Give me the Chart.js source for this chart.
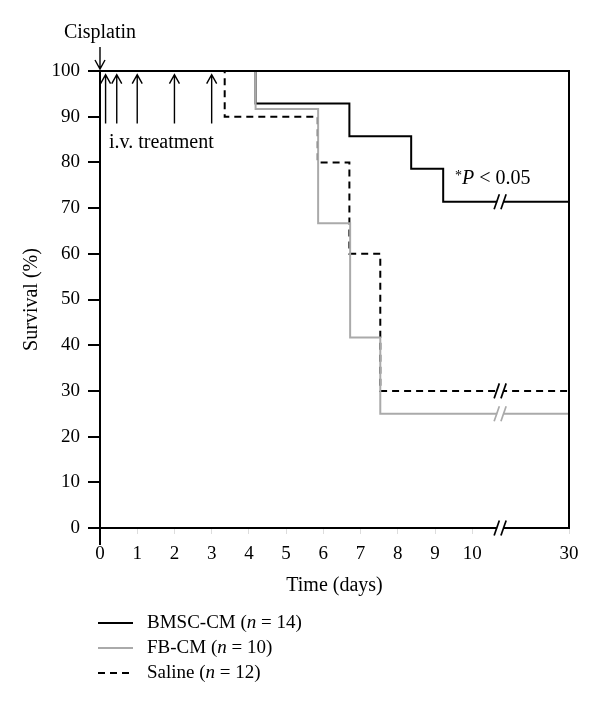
<!DOCTYPE html>
<html>
<head>
<meta charset="utf-8">
<script src="https://cdn.jsdelivr.net/npm/chart.js@4.4.0/dist/chart.umd.min.js"></script>
<style>
    html, body { margin: 0; padding: 0; background: #fff; }
    #wrap { width: 600px; height: 719px; }
</style>
</head>
<body>
<div id="wrap"><canvas id="survivalChart" width="600" height="719"></canvas></div>
<script>
/* ---------------------------------------------------
   Data
---------------------------------------------------*/

const bmscDays = [0, 4.18, 6.7, 8.36, 9.22, 30];
const bmscSurvival = [100, 92.9, 85.7, 78.6, 71.4, 71.4];

const fbDays = [0, 4.18, 5.86, 6.72, 7.53, 30];
const fbSurvival = [100, 91.7, 66.7, 41.7, 25, 25];

const salineDays = [0, 3.35, 5.85, 6.7, 7.53, 30];
const salineSurvival = [100, 90, 80, 60, 30, 30];

const xTickDays = [0, 1, 2, 3, 4, 5, 6, 7, 8, 9, 10, 30];
const yTickValues = [0, 10, 20, 30, 40, 50, 60, 70, 80, 90, 100];

const cisplatinDay = 0;
const treatmentDays = [0.15, 0.45, 1, 2, 3];

const legendLabels = [
    ["BMSC-CM (", "n", " = 14)"],
    ["FB-CM (", "n", " = 10)"],
    ["Saline (", "n", " = 12)"]
];

/* ---------------------------------------------------
   Broken time axis: 0-10 days linear, then 30
---------------------------------------------------*/

function axisPos(day) {
    return day <= 10 ? day : 10 + (day - 10) * 0.13;
}

const BREAK_POS = 10.75;
const SERIF = "'Liberation Serif', 'DejaVu Serif', serif";
const GREY = "#aaaaaa";

function toPoints(days, values) {
    return days.map((d, i) => ({ x: axisPos(d), y: values[i] }));
}

/* ---------------------------------------------------
   Helpers for drawing
---------------------------------------------------*/

function drawBreak(ctx, x, y, color) {
    ctx.save();
    ctx.fillStyle = "#fff";
    ctx.fillRect(x - 3, y - 3, 6, 6);
    ctx.strokeStyle = color;
    ctx.lineWidth = 1.7;
    ctx.setLineDash([]);
    [-3.4, 3.4].forEach(dx => {
        ctx.beginPath();
        ctx.moveTo(x + dx - 2.6, y + 7.5);
        ctx.lineTo(x + dx + 2.6, y - 7.5);
        ctx.stroke();
    });
    ctx.restore();
}

function drawArrow(ctx, x, yTail, yTip) {
    const dir = yTip < yTail ? 1 : -1;
    ctx.beginPath();
    ctx.moveTo(x, yTail);
    ctx.lineTo(x, yTip);
    ctx.moveTo(x - 5, yTip + dir * 9);
    ctx.lineTo(x, yTip);
    ctx.lineTo(x + 5, yTip + dir * 9);
    ctx.stroke();
}

function drawPieces(ctx, pieces, x, y, size) {
    pieces.forEach((p, i) => {
        ctx.font = (i === 1 ? "italic " : "") + size + "px " + SERIF;
        ctx.fillText(p, x, y);
        x += ctx.measureText(p).width;
    });
}

/* ---------------------------------------------------
   Annotation plugin: frame, breaks, arrows, legend
---------------------------------------------------*/

const annotations = {
    id: "annotations",
    afterDatasetsDraw(chart) {
        const ctx = chart.ctx;
        const area = chart.chartArea;
        const xs = chart.scales.x;
        const ys = chart.scales.y;

        ctx.save();
        ctx.strokeStyle = "#000";
        ctx.fillStyle = "#000";
        ctx.lineWidth = 2;
        ctx.setLineDash([]);

        // frame
        ctx.strokeRect(area.left, area.top, area.right - area.left, area.bottom - area.top);
        ctx.beginPath();
        ctx.moveTo(area.left, area.bottom);
        ctx.lineTo(area.left, area.bottom + 17);
        ctx.stroke();

        // axis breaks
        const bx = xs.getPixelForValue(BREAK_POS);
        drawBreak(ctx, bx, ys.getPixelForValue(bmscSurvival[bmscSurvival.length - 1]), "#000");
        drawBreak(ctx, bx, ys.getPixelForValue(salineSurvival[salineSurvival.length - 1]), "#000");
        drawBreak(ctx, bx, ys.getPixelForValue(fbSurvival[fbSurvival.length - 1]), GREY);
        drawBreak(ctx, bx, area.bottom, "#000");

        // cisplatin arrow
        ctx.lineWidth = 1.4;
        const cx = xs.getPixelForValue(axisPos(cisplatinDay));
        drawArrow(ctx, cx, area.top - 24, area.top - 2);
        ctx.font = "20px " + SERIF;
        ctx.textAlign = "center";
        ctx.textBaseline = "alphabetic";
        ctx.fillText("Cisplatin", cx, 38);

        // i.v. treatment arrows
        treatmentDays.forEach(d => {
            const tx = xs.getPixelForValue(axisPos(d));
            drawArrow(ctx, tx, ys.getPixelForValue(88.5), ys.getPixelForValue(99.2));
        });
        ctx.textAlign = "left";
        ctx.fillText("i.v. treatment", 109, 148);

        // p value
        ctx.font = "14px " + SERIF;
        ctx.fillText("*", 455, 180);
        drawPieces(ctx, ["", "P", " < 0.05"], 462, 184, 20);

        // legend
        const rows = [623, 648, 673];
        const styles = [
            { color: "#000", dash: [] },
            { color: GREY, dash: [] },
            { color: "#000", dash: [7, 5] }
        ];
        rows.forEach((ry, i) => {
            ctx.strokeStyle = styles[i].color;
            ctx.lineWidth = 2;
            ctx.setLineDash(styles[i].dash);
            ctx.beginPath();
            ctx.moveTo(98, ry);
            ctx.lineTo(133, ry);
            ctx.stroke();
            ctx.setLineDash([]);
            ctx.fillStyle = "#000";
            ctx.textBaseline = "middle";
            drawPieces(ctx, legendLabels[i], 147, ry, 19);
        });

        ctx.restore();
    }
};

/* ---------------------------------------------------
   Chart
---------------------------------------------------*/

function lineDataset(label, days, values, color, dash) {
    return {
        label: label,
        data: toPoints(days, values),
        borderColor: color,
        borderWidth: 2,
        borderDash: dash,
        stepped: true,
        pointRadius: 0,
        fill: false
    };
}

new Chart(document.getElementById("survivalChart"), {
    type: "line",
    data: {
        datasets: [
            lineDataset("FB-CM", fbDays, fbSurvival, GREY, []),
            lineDataset("Saline", salineDays, salineSurvival, "#000", [7, 5]),
            lineDataset("BMSC-CM", bmscDays, bmscSurvival, "#000", [])
        ]
    },
    options: {
        responsive: false,
        animation: false,
        layout: { padding: { left: 0, right: 31, top: 71, bottom: 119 } },
        plugins: {
            legend: { display: false },
            tooltip: { enabled: false }
        },
        scales: {
            x: {
                type: "linear",
                min: 0,
                max: axisPos(30),
                afterBuildTicks: scale => {
                    scale.ticks = xTickDays.map(d => ({ value: axisPos(d) }));
                },
                afterFit: scale => { scale.height = 72; },
                ticks: {
                    color: "#000",
                    font: { family: SERIF, size: 19 },
                    padding: 9,
                    maxRotation: 0,
                    autoSkip: false,
                    callback: (v, i) => String(xTickDays[i])
                },
                grid: { drawOnChartArea: false, tickLength: 6, tickColor: "#dddddd" },
                border: { display: false },
                title: {
                    display: true,
                    text: "Time (days)",
                    color: "#000",
                    font: { family: SERIF, size: 20 },
                    padding: { top: 0, bottom: 2 }
                }
            },
            y: {
                min: 0,
                max: 100,
                afterBuildTicks: scale => {
                    scale.ticks = yTickValues.map(v => ({ value: v }));
                },
                afterFit: scale => { scale.width = 100; },
                ticks: {
                    color: "#000",
                    font: { family: SERIF, size: 19 },
                    padding: 8
                },
                grid: { drawOnChartArea: false, tickLength: 12, tickColor: "#000", lineWidth: 2 },
                border: { display: false },
                title: {
                    display: true,
                    text: "Survival (%)",
                    color: "#000",
                    font: { family: SERIF, size: 20 },
                    padding: { top: 20, bottom: 0 }
                }
            }
        }
    },
    plugins: [annotations]
});
</script>
</body>
</html>
